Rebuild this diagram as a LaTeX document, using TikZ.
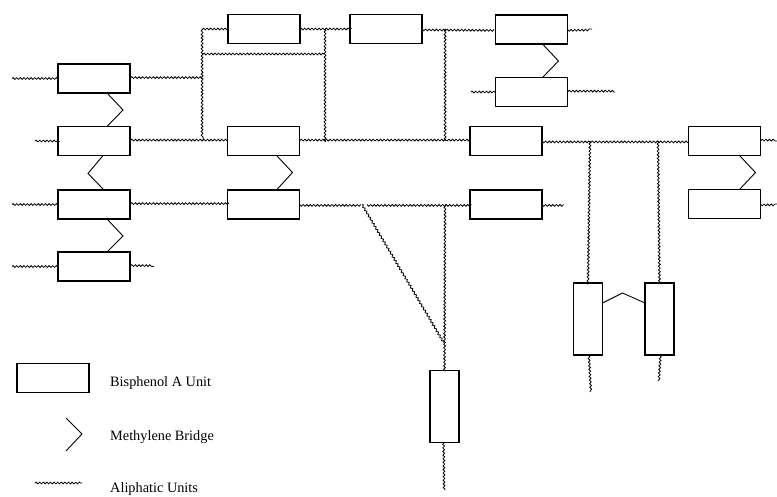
\documentclass[tikz,border=0pt]{standalone}
\usepackage{fontspec}
\setmainfont{Liberation Serif}
\usetikzlibrary{decorations.pathmorphing}

\tikzset{
  bpa/.style={draw, line width=1.1pt, minimum width=72pt, minimum height=29pt,
              inner sep=0pt, outer sep=0pt},
  vbpa/.style={bpa, minimum width=29pt, minimum height=72pt},
  aliph/.style={decorate, decoration={snake, segment length=3.6pt, amplitude=0.9pt},
                line width=0.8pt},
  bridge/.style={line width=0.9pt},
  legtext/.style={anchor=base west, inner sep=0pt, font=\fontsize{14.3}{17}\selectfont}
}

\begin{document}
\begin{tikzpicture}[x=1pt,y=-1pt]
  \useasboundingbox (0,0) rectangle (777,497);

  % Bisphenol A units
  \node[bpa] (L1) at (94,78.5) {};
  \node[bpa] (L2) at (94,141) {};
  \node[bpa] (L3) at (94,204.5) {};
  \node[bpa] (L4) at (94,266.5) {};
  \node[bpa] (T1) at (264,29) {};
  \node[bpa] (T2) at (386,29) {};
  \node[bpa] (T3) at (531.5,29.5) {};
  \node[bpa] (T4) at (531.5,92) {};
  \node[bpa] (M2) at (263.5,141) {};
  \node[bpa] (M3) at (263.5,204.5) {};
  \node[bpa] (R2) at (506,141) {};
  \node[bpa] (R3) at (506,204.5) {};
  \node[bpa] (RR1) at (724.5,141) {};
  \node[bpa] (RR2) at (724.5,204) {};
  \node[vbpa] (V1) at (588,319) {};
  \node[vbpa] (V2) at (659.5,319) {};
  \node[vbpa] (B) at (444.5,406.5) {};

  % junctions and free ends
  \coordinate (jtl) at (203,29);
  \coordinate (jt2) at (325,29);
  \coordinate (jt3) at (446,29);
  \coordinate (jm1) at (203,141);
  \coordinate (jm2) at (325,141);
  \coordinate (jm3) at (446,141);
  \coordinate (jv1) at (590,141);
  \coordinate (jv2) at (658,141);
  \coordinate (jd) at (362,204.5);
  \coordinate (jb) at (445,204.5);

  % aliphatic chains
  \draw[aliph] (12,78.5) -- (L1.west) (L1.east) -- (203,78.5);
  \draw[aliph] (T1.west) -- (jtl) (jtl) -- (jm1);
  \draw[aliph] (203,54) -- (325,54);
  \draw[aliph] (T1.east) -- (T2.west) (T2.east) -- (T3.west)
               (T3.east) -- (592,29);
  \draw[aliph] (jt2) -- (jm2) (jt3) -- (jm3);
  \draw[aliph] (471,92) -- (T4.west) (T4.east) -- (615,92);
  \draw[aliph] (35,141) -- (L2.west) (L2.east) -- (M2.west)
               (M2.east) -- (R2.west) (R2.east) -- (RR1.west)
               (RR1.east) -- (777,141);
  \draw[aliph] (jv1) -- (V1.north) (V1.south) -- (590,392);
  \draw[aliph] (jv2) -- (V2.north) (V2.south) -- (658,381);
  \draw[aliph] (12,204.5) -- (L3.west) (L3.east) -- (M3.west)
               (M3.east) -- (jd) (367,204.5) -- (R3.west)
               (R3.east) -- (565,204.5) (RR2.east) -- (777,204);
  \draw[aliph] (jd) -- (444,343);
  \draw[aliph] (jb) -- (B.north) (B.south) -- (445,490);
  \draw[aliph] (12,266.5) -- (L4.west) (L4.east) -- (154,266.5);

  % methylene bridges
  \foreach \a/\b/\dx in {L1/L2/13, L3/L4/13, M2/M3/13, T3/T4/11, RR1/RR2/15}{
    \draw[bridge] ([xshift=\dx pt]\a.south) -- ++(16,17) -- ([xshift=\dx pt]\b.north);
  }
  \draw[bridge] ([xshift=9pt]L2.south) -- ++(-15,18) -- ([xshift=10pt]L3.north);
  \draw[bridge] ([yshift=16pt]V1.east) -- ++(20,-10) -- ([yshift=16pt]V2.west);

  % legend
  \node[bpa] (legbox) at (53,378) {};
  \draw[bridge] (66,418) -- (82,434) -- (66,451);
  \draw[aliph] (35,483) -- (82,483);
  \node[legtext] (legB) at (110,386) {Bisphenol A Unit};
  \node[legtext] (legM) at (110,440) {Methylene Bridge};
  \node[legtext] (legA) at (110,492) {Aliphatic Units};
\end{tikzpicture}
\end{document}
